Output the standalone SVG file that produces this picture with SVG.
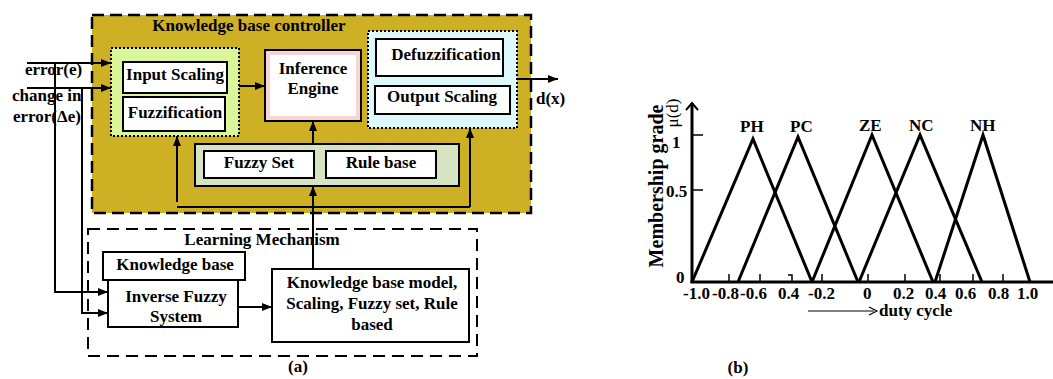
<svg xmlns="http://www.w3.org/2000/svg" width="1053" height="379" viewBox="0 0 1053 379">
  <style>
    text { font-family: "Liberation Serif", "Times New Roman", serif; font-weight: bold; font-size: 17px; fill: #000; }
    .c { text-anchor: middle; }
    .box { fill: #fff; stroke: #000; stroke-width: 2; }
    .ln { fill: none; stroke: #000; stroke-width: 2; }
    .arr { fill: none; stroke: #000; stroke-width: 2; marker-end: url(#ah); }
    .plot { fill: none; stroke: #000; stroke-width: 3; stroke-linejoin: miter; }
    .tick { fill: none; stroke: #000; stroke-width: 1.5; }
  </style>
  <defs>
    <marker id="ah" viewBox="0 0 10 8" refX="10" refY="4" markerWidth="10" markerHeight="8" markerUnits="userSpaceOnUse" orient="auto">
      <path d="M0,0 L10,4 L0,8 Z" fill="#000"/>
    </marker>
  </defs>

  <rect width="1053" height="379" fill="#fff"/>

  <!-- (a) controller block -->
  <g id="controller">
    <rect x="92" y="15" width="439" height="198" fill="#CDB024" stroke="#000" stroke-width="2.5" stroke-dasharray="12 6"/>
    <text class="c" x="249" y="31">Knowledge base controller</text>
  </g>

  <g id="input-stage">
    <rect x="111" y="48" width="128" height="88" fill="#DAF69A" stroke="#000" stroke-width="2" stroke-dasharray="2 2"/>
    <rect class="box" x="123" y="62" width="104" height="31"/>
    <text class="c" x="175" y="80">Input Scaling</text>
    <rect class="box" x="123" y="97" width="102" height="34"/>
    <text class="c" x="175" y="118">Fuzzification</text>
  </g>

  <g id="inference-engine">
    <rect x="265" y="50" width="96" height="71" fill="#F9D5D2" stroke="#000" stroke-width="2"/>
    <rect x="270" y="55" width="86" height="61" fill="#fff"/>
    <text class="c" x="313" y="74">Inference</text>
    <text class="c" x="313" y="94">Engine</text>
  </g>

  <g id="output-stage">
    <rect x="368" y="31" width="149" height="97" fill="#DDF9FD" stroke="#000" stroke-width="2" stroke-dasharray="2 2"/>
    <rect class="box" x="376" y="39" width="127" height="37"/>
    <text class="c" x="446" y="60">Defuzzification</text>
    <rect class="box" x="375" y="86" width="135" height="28"/>
    <text class="c" x="442" y="102">Output Scaling</text>
  </g>

  <g id="rule-store">
    <rect x="195" y="144" width="264" height="42" fill="#D6E4C2" stroke="#000" stroke-width="2"/>
    <rect class="box" x="204" y="151" width="110" height="27"/>
    <text class="c" x="259" y="168">Fuzzy Set</text>
    <rect class="box" x="326" y="151" width="110" height="27"/>
    <text class="c" x="381" y="168">Rule base</text>
  </g>

  <!-- (a) learning block -->
  <g id="learning">
    <rect x="88" y="229" width="389" height="127" fill="none" stroke="#000" stroke-width="2" stroke-dasharray="12 7"/>
    <text class="c" x="262" y="245">Learning Mechanism</text>
  </g>

  <g id="knowledge-base">
    <rect class="box" x="103" y="252" width="142" height="28"/>
    <text class="c" x="175" y="270">Knowledge base</text>
  </g>

  <g id="inverse-fuzzy">
    <rect class="box" x="108" y="280" width="130" height="47"/>
    <text class="c" x="176" y="302">Inverse Fuzzy</text>
    <text class="c" x="176" y="322">System</text>
  </g>

  <g id="kb-model">
    <rect class="box" x="272" y="269" width="197" height="73"/>
    <text class="c" x="372" y="288">Knowledge base model,</text>
    <text class="c" x="372" y="309">Scaling, Fuzzy set, Rule</text>
    <text class="c" x="372" y="330">based</text>
  </g>

  <g id="signals">
    <text x="25" y="75">error(e)</text>
    <text x="12" y="101">change in</text>
    <text x="13" y="122">error(Δe)</text>
    <text x="536" y="104">d(x)</text>
  </g>

  <g id="connectors">
    <path class="arr" d="M27,63 H111"/>
    <path class="arr" d="M27,88 H111"/>
    <path class="arr" d="M55,63 V292 H108"/>
    <path class="arr" d="M82,88 V313 H108"/>
    <path class="arr" d="M239,86 H265"/>
    <path class="arr" d="M517,79 H558"/>
    <path class="arr" d="M313,144 V121"/>
    <path class="arr" d="M313,269 V186"/>
    <path class="ln" d="M177,207 H470"/>
    <path class="arr" d="M177,202 V136"/>
    <path class="arr" d="M470,207 V128"/>
    <path class="arr" d="M238,307 H272"/>
  </g>

  <text class="c" x="298" y="372">(a)</text>

  <!-- (b) membership functions -->
  <g id="axes">
    <path class="plot" d="M692,283 V103"/>
    <path class="ln" d="M686,110 L692,103 L698,110" stroke-width="2.5"/>
    <path class="plot" d="M690.5,282 H1053"/>
    <path class="tick" d="M692,135 H703 M692,190 H703"/>
    <path class="tick" d="M729,282 V274 M760,282 V274 M822,282 V274 M868,282 V274 M905,282 V274 M940,282 V274 M973,282 V274 M1003,282 V274"/>
    <path class="tick" d="M788,275 H792 V282"/>
  </g>

  <g id="curves">
    <path class="plot" d="M692,282 L753,139 L812,282"/>
    <path class="plot" d="M738,282 L798,137 L858,282"/>
    <path class="plot" d="M812,282 L872,135 L933,282"/>
    <path class="plot" d="M859,282 L920,135 L982,282"/>
    <path class="plot" d="M935,282 L983,135 L1030,282"/>
  </g>

  <g id="curve-labels">
    <text x="740" y="132">PH</text>
    <text x="790" y="132">PC</text>
    <text x="859" y="131">ZE</text>
    <text x="909" y="131">NC</text>
    <text x="970" y="131">NH</text>
  </g>

  <g id="axis-labels">
    <text x="672" y="148">1</text>
    <text x="666" y="197">0.5</text>
    <text x="676" y="283">0</text>
    <text x="683" y="299">-1.0</text>
    <text x="712" y="299">-0.8</text>
    <text x="740" y="299">-0.6</text>
    <text x="778" y="299">0.4</text>
    <text x="808" y="299">-0.2</text>
    <text x="863" y="299">0</text>
    <text x="893" y="299">0.2</text>
    <text x="925" y="299">0.4</text>
    <text x="955" y="299">0.6</text>
    <text x="988" y="299">0.8</text>
    <text x="1017" y="299">1.0</text>
    <text class="c" transform="translate(663,186) rotate(-90)" style="font-size:20px">Membership grade</text>
    <text class="c" transform="translate(678,113) rotate(-90)" style="font-weight:normal">μ(d)</text>
    <path d="M808,311 H874" stroke="#000" stroke-width="1.2" fill="none"/>
    <path d="M869,307 L877,311 L869,315" stroke="#000" stroke-width="1.2" fill="none"/>
    <text x="879" y="316">duty cycle</text>
  </g>

  <text class="c" x="738" y="373">(b)</text>
</svg>
